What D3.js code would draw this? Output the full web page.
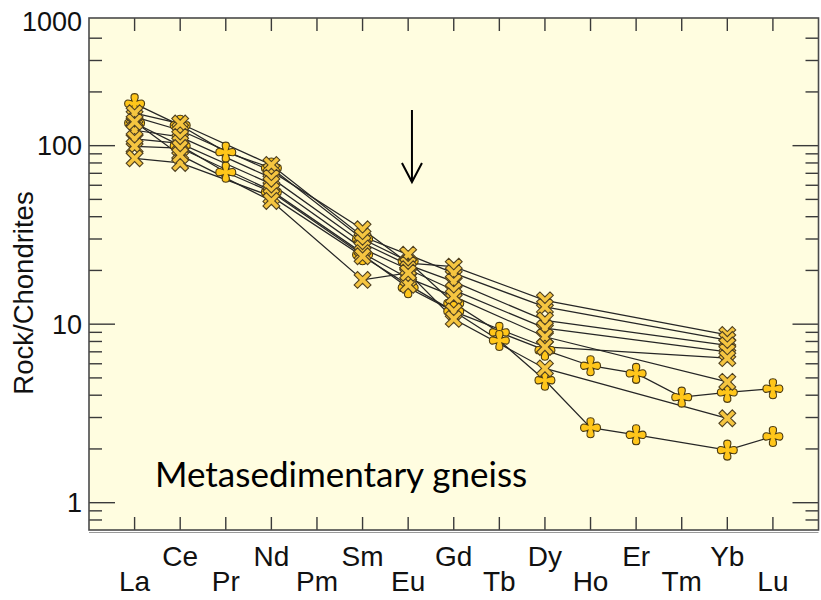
<!DOCTYPE html>
<html><head><meta charset="utf-8">
<script src="https://cdn.jsdelivr.net/npm/d3@7"></script>
<style>
html,body{margin:0;padding:0;background:#fff;}
svg{display:block;}
</style></head>
<body>
<svg id="chart" width="821" height="600"></svg>
<script>
// ---------- data ----------
const elements = ["La","Ce","Pr","Nd","Pm","Sm","Eu","Gd","Tb","Dy","Ho","Er","Tm","Yb","Lu"];
const yTickValues = [1, 10, 100];
const yTickLabels = ["1", "10", "100", "1000"];
const yTitle = "Rock/Chondrites";
const annotation = "Metasedimentary gneiss";

// cross-marker samples (La, Ce, -, Nd, -, Sm, Eu, Gd, -, Dy, -, -, -, Yb, -)
const cross1 = [145, 122, null, 72, null, 34,   22,   21,   null, 13.6, null, null, null, 8.7,  null];
const cross2 = [152, 133, null, 78, null, 31,   24.5, 19.3, null, 12.5, null, null, null, 8.15, null];
const cross3 = [122, 112, null, 66, null, 28.5, 21.5, 17.3, null, 10.5, null, null, null, 7.6,  null];
const cross4 = [109, 103, null, 61, null, 26.5, 20.3, 15.5, null, 9.5,  null, null, null, 7.0,  null];
const cross5 = [99,  97,  null, 56, null, 25,   18.1, 14.3, null, 8.5,  null, null, null, 4.75, null];
const cross6 = [85,  80,  null, 52, null, 24,   16.6, 11.8, null, 7.45, null, null, null, 6.45, null];
const cross7 = [136, 88.5,null, 49, null, 17.7, 19.4, 10.7, null, 5.65, null, null, null, 2.97, null];
// plus-marker samples (full REE)
const plusA = [172, 130, 92, 75, null, 30,   22.5, 13.1, 9.0, 7.15, 5.85, 5.3, 3.9, 4.15, 4.35];
const plusB = [134, 100, 71, 55, null, 24.5, 16,   11.8, 8.1, 4.85, 2.63, 2.4, null, 1.97, 2.35];

const crossSeries = [cross1, cross2, cross3, cross4, cross5, cross6, cross7];
const plusSeries = [plusA, plusB];

// ---------- layout ----------
const svg = d3.select("#chart");
const L = 89, R = 818.5, T = 18, B = 530;

const x = d3.scalePoint().domain(elements).range([L, R]).padding(1);
const y = d3.scaleLog().domain([0.703, 519]).range([B, T]);

// plot background
svg.append("rect").attr("x", L).attr("y", T).attr("width", R - L).attr("height", B - T)
  .attr("fill", "#fffde0");

// ---------- ticks ----------
const tickColor = "#3a3a3a";
const g = svg.append("g").attr("stroke", tickColor).attr("stroke-width", 1.4);
const minorVals = [];
[0.1, 1, 10, 100].forEach(dec => { for (let k = 2; k <= 9; k++) { const v = dec * k; if (v > y.domain()[0] && v < y.domain()[1]) minorVals.push(v); } });
const minor = minorVals.filter(v => y(v) > T + 8);
minor.forEach(v => {
  g.append("line").attr("x1", L).attr("x2", L + 13).attr("y1", y(v)).attr("y2", y(v));
  g.append("line").attr("x1", R).attr("x2", R - 13).attr("y1", y(v)).attr("y2", y(v));
});
yTickValues.forEach(v => {
  g.append("line").attr("x1", L).attr("x2", L + 26).attr("y1", y(v)).attr("y2", y(v));
  g.append("line").attr("x1", R).attr("x2", R - 26).attr("y1", y(v)).attr("y2", y(v));
});
elements.forEach(e => {
  g.append("line").attr("x1", x(e)).attr("x2", x(e)).attr("y1", T).attr("y2", T + 13);
  g.append("line").attr("x1", x(e)).attr("x2", x(e)).attr("y1", B).attr("y2", B - 13);
});

// frame
svg.append("rect").attr("x", L).attr("y", T).attr("width", R - L).attr("height", B - T)
  .attr("fill", "none").attr("stroke", "#4a4a4a").attr("stroke-width", 1.6);
svg.append("line").attr("x1", L).attr("x2", R).attr("y1", B + 2.5).attr("y2", B + 2.5)
  .attr("stroke", "#9a9a9a").attr("stroke-width", 1);

// ---------- labels ----------
const font = "'Liberation Sans', Arial, sans-serif";
const yLabelPos = [...yTickValues.map(v => y(v)), y(y.domain()[1]) + 3];
yTickLabels.forEach((t, i) => {
  svg.append("text").attr("x", 82).attr("y", yLabelPos[i]).attr("dy", "0.36em")
    .attr("text-anchor", "end").attr("font-family", font).attr("font-size", 27)
    .attr("fill", "#111").text(t);
});
svg.append("text").attr("transform", `translate(33,${(T + B) / 2 + 19}) rotate(-90)`)
  .attr("text-anchor", "middle").attr("font-family", font).attr("font-size", 27.5)
  .attr("fill", "#111").text(yTitle);
elements.forEach((e, i) => {
  svg.append("text").attr("x", x(e)).attr("y", i % 2 === 0 ? 591 : 566)
    .attr("text-anchor", "middle").attr("font-family", font).attr("font-size", 28)
    .attr("fill", "#111").text(e);
});

// ---------- lines ----------
const line = d3.line().x(d => x(d.e)).y(d => y(d.v));
const toPts = s => s.map((v, i) => ({ e: elements[i], v })).filter(d => d.v != null);
const lines = svg.append("g").attr("fill", "none").attr("stroke", "#262626").attr("stroke-width", 1.25);
[...plusSeries, ...crossSeries].forEach(s => lines.append("path").attr("d", line(toPts(s))));

// ---------- markers ----------
function plusPath(R0, a, c) {
  return `M${-a},${-a} Q${-c},${-R0} 0,${-R0} Q${c},${-R0} ${a},${-a}` +
         ` Q${R0},${-c} ${R0},0 Q${R0},${c} ${a},${a}` +
         ` Q${c},${R0} 0,${R0} Q${-c},${R0} ${-a},${a}` +
         ` Q${-R0},${c} ${-R0},0 Q${-R0},${-c} ${-a},${-a}Z`;
}
function crossPath(r, t) {
  const p = [[-t,-r],[t,-r],[t,-t],[r,-t],[r,t],[t,t],[t,r],[-t,r],[-t,t],[-r,t],[-r,-t],[-t,-t]];
  const c = Math.SQRT1_2;
  return "M" + p.map(([px, py]) => [(px - py) * c, (px + py) * c].map(n => n.toFixed(2)).join(",")).join("L") + "Z";
}
const mk = svg.append("g");
plusSeries.forEach(s => toPts(s).forEach(d => {
  mk.append("path").attr("d", plusPath(10, 2.6, 5.6)).attr("transform", `translate(${x(d.e)},${y(d.v)})`)
    .attr("fill", "#ffc61a").attr("stroke", "#4a3a12").attr("stroke-width", 1.1);
}));
crossSeries.forEach(s => toPts(s).forEach(d => {
  mk.append("path").attr("d", crossPath(9.5, 2.4)).attr("transform", `translate(${x(d.e)},${y(d.v)})`)
    .attr("fill", "#f5c540").attr("stroke", "#4f4020").attr("stroke-width", 1.1);
}));

// ---------- annotations ----------
const ax = (x("Eu") + x("Gd")) / 2 - 19;
const arrow = svg.append("g").attr("stroke", "#000").attr("stroke-width", 2).attr("fill", "none");
arrow.append("line").attr("x1", ax).attr("x2", ax).attr("y1", 110).attr("y2", 182);
arrow.append("path").attr("d", `M${ax - 10},163 L${ax},182 L${ax + 10},163`);

svg.append("text").attr("x", 155).attr("y", 487).attr("font-family", "Lato, 'Open Sans', sans-serif")
  .attr("font-size", 35).attr("fill", "#000").text(annotation);
</script>
</body></html>
